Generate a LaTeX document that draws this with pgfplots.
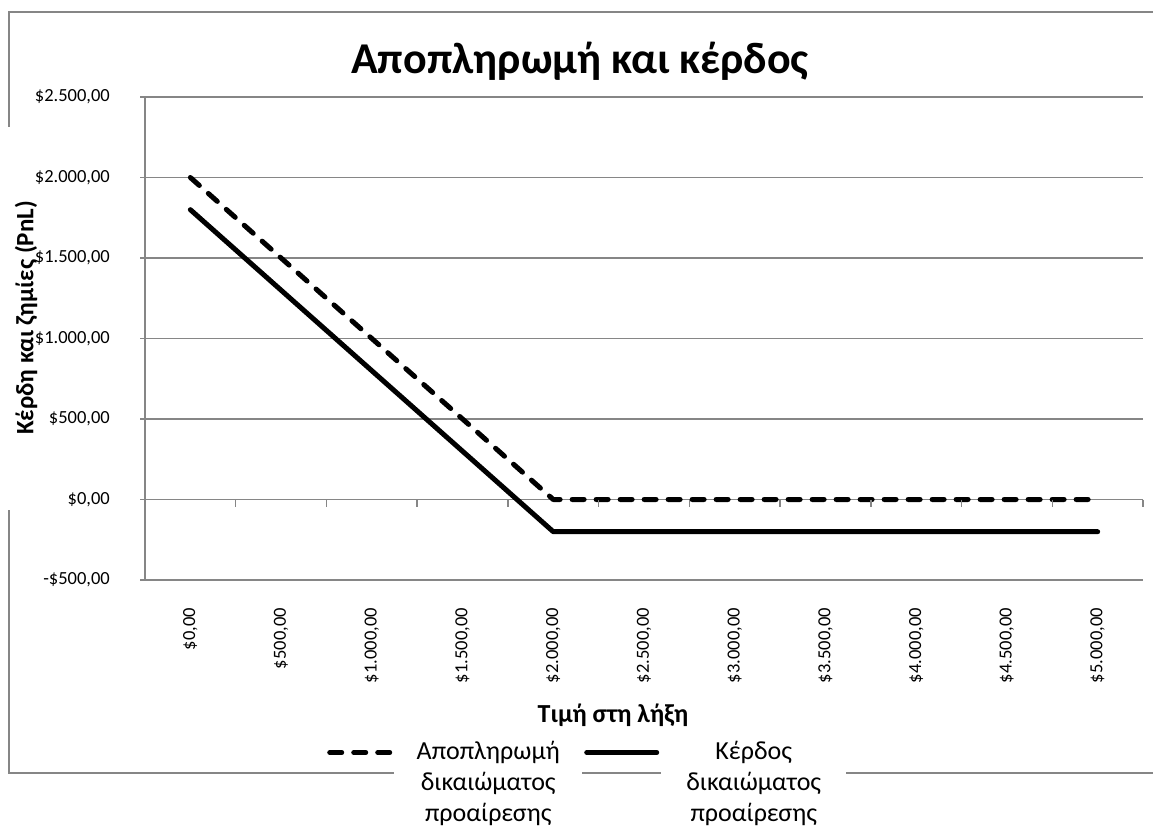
\documentclass[border=0pt]{standalone}
\usepackage{fontspec}
\setmainfont{Carlito}
\usepackage{pgfplots}
\pgfplotsset{compat=1.18}
\definecolor{gridgray}{RGB}{134,134,134}
\setlength{\fboxsep}{0pt}
\pgfplotsset{
  legdash/.style={legend image code/.code={\draw[##1] (0pt,7pt) -- (60pt,7pt);}},
  legsolid/.style={legend image code/.code={\draw[##1] (10pt,7pt) -- (80pt,7pt);}},
}
\newcommand{\xl}[1]{\makebox[80pt][r]{#1}}
\begin{document}
\begin{tikzpicture}[x=1pt,y=1pt]
\useasboundingbox (0,0) rectangle (1153,828);
\draw[gridgray, line width=1.5pt] (1200,816) -- (9,816) -- (9,701);
\draw[gridgray, line width=1.5pt] (9,318) -- (9,55) -- (1200,55);
\begin{axis}[
  at={(145pt,248pt)}, anchor=south west,
  scale only axis, width=998pt, height=483pt,
  xmin=-0.5, xmax=10.5, ymin=-500, ymax=2500,
  clip=false,
  axis y line*=left, axis x line*=bottom,
  axis line style={gridgray, line width=1.5pt, -},
  xtick={0,...,10},
  xticklabels={{\xl{\$0,00}},{\xl{\$500,00}},{\xl{\$1.000,00}},{\xl{\$1.500,00}},{\xl{\$2.000,00}},{\xl{\$2.500,00}},{\xl{\$3.000,00}},{\xl{\$3.500,00}},{\xl{\$4.000,00}},{\xl{\$4.500,00}},{\xl{\$5.000,00}}},
  ytick={-500,0,500,1000,1500,2000,2500},
  yticklabels={{-\$500,00},{\$0,00},{\$500,00},{\$1.000,00},{\$1.500,00},{\$2.000,00},{\$2.500,00}},
  ymajorgrids,
  grid style={gridgray, line width=1.5pt},
  tick align=outside,
  major tick length=5pt,
  xtick style={draw=none},
  ytick style={gridgray, line width=1.5pt},
  tick label style={font=\fontsize{18.5}{22}\selectfont, text=black},
  xticklabel style={rotate=90, anchor=east, inner sep=0pt},
  xticklabel shift=23pt,
  yticklabel style={anchor=east, inner sep=0pt},
  yticklabel shift=30pt,
  title={Αποπληρωμή και κέρδος},
  title style={at={(0.4359,1.0352)}, anchor=base, font=\bfseries\fontsize{44}{50}\selectfont},
  xlabel={Τιμή στη λήξη},
  xlabel style={at={(0.469,-0.2795)}, anchor=center, font=\bfseries\fontsize{26}{30}\selectfont},
  ylabel={Κέρδη και ζημίες (PnL)},
  ylabel style={at={(-0.1192,0.5424)}, anchor=center, font=\bfseries\fontsize{25}{30}\selectfont},
  legend columns=2,
  legend style={at={(0.1824,-0.3292)}, anchor=north west, draw=none, fill=none,
    inner sep=0pt, column sep=0pt, row sep=0pt,
    font=\fontsize{26}{31}\selectfont, cells={anchor=base west}},
]
\addplot[black, line width=5pt, dash pattern=on 12pt off 12pt, line cap=round, line join=round, legdash]
  coordinates {(0,2000) (1,1500) (2,1000) (3,500) (4,0) (5,0) (6,0) (7,0) (8,0) (9,0) (10,0)};
\addlegendentry{\colorbox{white}{\parbox[t]{188pt}{\centering Αποπληρωμή\\δικαιώματος\\προαίρεσης}}}
\addplot[black, line width=5pt, line cap=round, line join=round, legsolid]
  coordinates {(0,1800) (1,1300) (2,800) (3,300) (4,-200) (5,-200) (6,-200) (7,-200) (8,-200) (9,-200) (10,-200)};
\addlegendentry{\colorbox{white}{\parbox[t]{185pt}{\centering Κέρδος\\δικαιώματος\\προαίρεσης}}}
\pgfplotsinvokeforeach{-0.5,0.5,...,10.5}{
  \draw[gridgray, line width=1.5pt] (axis cs:#1,0) -- ++(0pt,-7pt);
}
\end{axis}
\end{tikzpicture}
\end{document}
